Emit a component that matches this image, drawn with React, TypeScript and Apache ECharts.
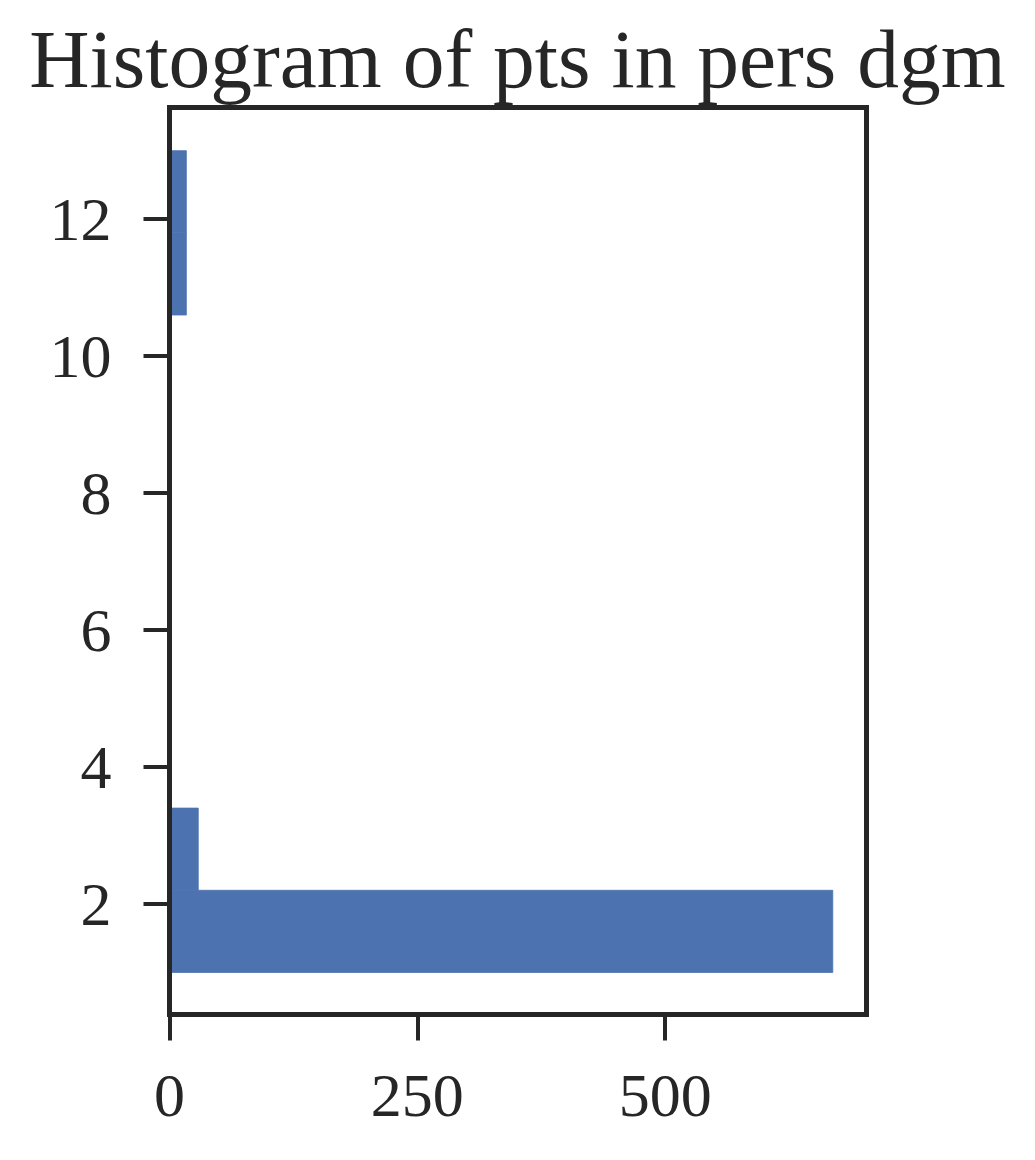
import React, { useEffect, useRef } from "react";
import * as echarts from "echarts";

const titleText = "Histogram of pts in pers dgm";
const binEdges = [1.0, 2.2, 3.4, 4.6, 5.8, 7.0, 8.2, 9.4, 10.6, 11.8, 13.0];
const counts = [669, 29, 0, 0, 0, 0, 0, 0, 17, 17];
const xTicks = [0, 250, 500];
const yTicks = [2, 4, 6, 8, 10, 12];

const TEXT = "#262626";
const BAR = "#4C72B0";
const FONT = "'Liberation Serif', 'DejaVu Serif', serif";

export default function App() {
  const ref = useRef<HTMLDivElement>(null);
  useEffect(() => {
    if (!ref.current) return;
    const chart = echarts.init(ref.current, null, { renderer: "svg" });
    const data = counts.map((c, i) => [binEdges[i], binEdges[i + 1], c]);
    const option = {
      animation: false,
      backgroundColor: "#ffffff",
      title: {
        text: titleText,
        left: "center",
        top: 12,
        textStyle: { fontFamily: FONT, fontSize: 83.5, fontWeight: "normal", color: TEXT },
      },
      grid: {
        left: 169.5,
        right: 168.5,
        top: 107.5,
        bottom: 145.5,
        show: true,
        borderColor: TEXT,
        borderWidth: 5,
        backgroundColor: "transparent",
      },
      xAxis: {
        type: "value",
        min: 0,
        max: 703,
        z: 5,
        axisLine: { show: true, lineStyle: { color: TEXT, width: 5 } },
        splitLine: { show: false },
        axisTick: {
          show: true,
          inside: false,
          length: 26,
          lineStyle: { color: TEXT, width: 4 },
          customValues: xTicks,
        },
        axisLabel: {
          margin: 49,
          fontFamily: FONT,
          fontSize: 62,
          color: TEXT,
          customValues: xTicks,
        },
      },
      yAxis: {
        type: "value",
        min: 0.386,
        max: 13.63,
        z: 5,
        axisLine: { show: true, lineStyle: { color: TEXT, width: 5 } },
        splitLine: { show: false },
        axisTick: {
          show: true,
          inside: false,
          length: 26,
          lineStyle: { color: TEXT, width: 4 },
          customValues: yTicks,
        },
        axisLabel: {
          margin: 58,
          fontFamily: FONT,
          fontSize: 62,
          color: TEXT,
          customValues: yTicks,
        },
      },
      series: [
        {
          type: "custom",
          clip: true,
          encode: { x: 2, y: [0, 1] },
          data,
          renderItem: (params: any, api: any) => {
            const y0 = api.value(0);
            const y1 = api.value(1);
            const c = api.value(2);
            if (!c) return null;
            const p0 = api.coord([0, y0]);
            const p1 = api.coord([c, y1]);
            return {
              type: "rect",
              shape: { x: p0[0], y: p1[1], width: p1[0] - p0[0], height: p0[1] - p1[1] },
              style: { fill: BAR, stroke: BAR, lineWidth: 0.8 },
            };
          },
          z: 1,
        },
      ],
    };
    chart.setOption(option as any);
    return () => chart.dispose();
  }, []);
  return (
    <div
      ref={ref}
      style={{ position: "fixed", left: 0, top: 0, width: 1035, height: 1160, background: "#fff" }}
    />
  );
}
